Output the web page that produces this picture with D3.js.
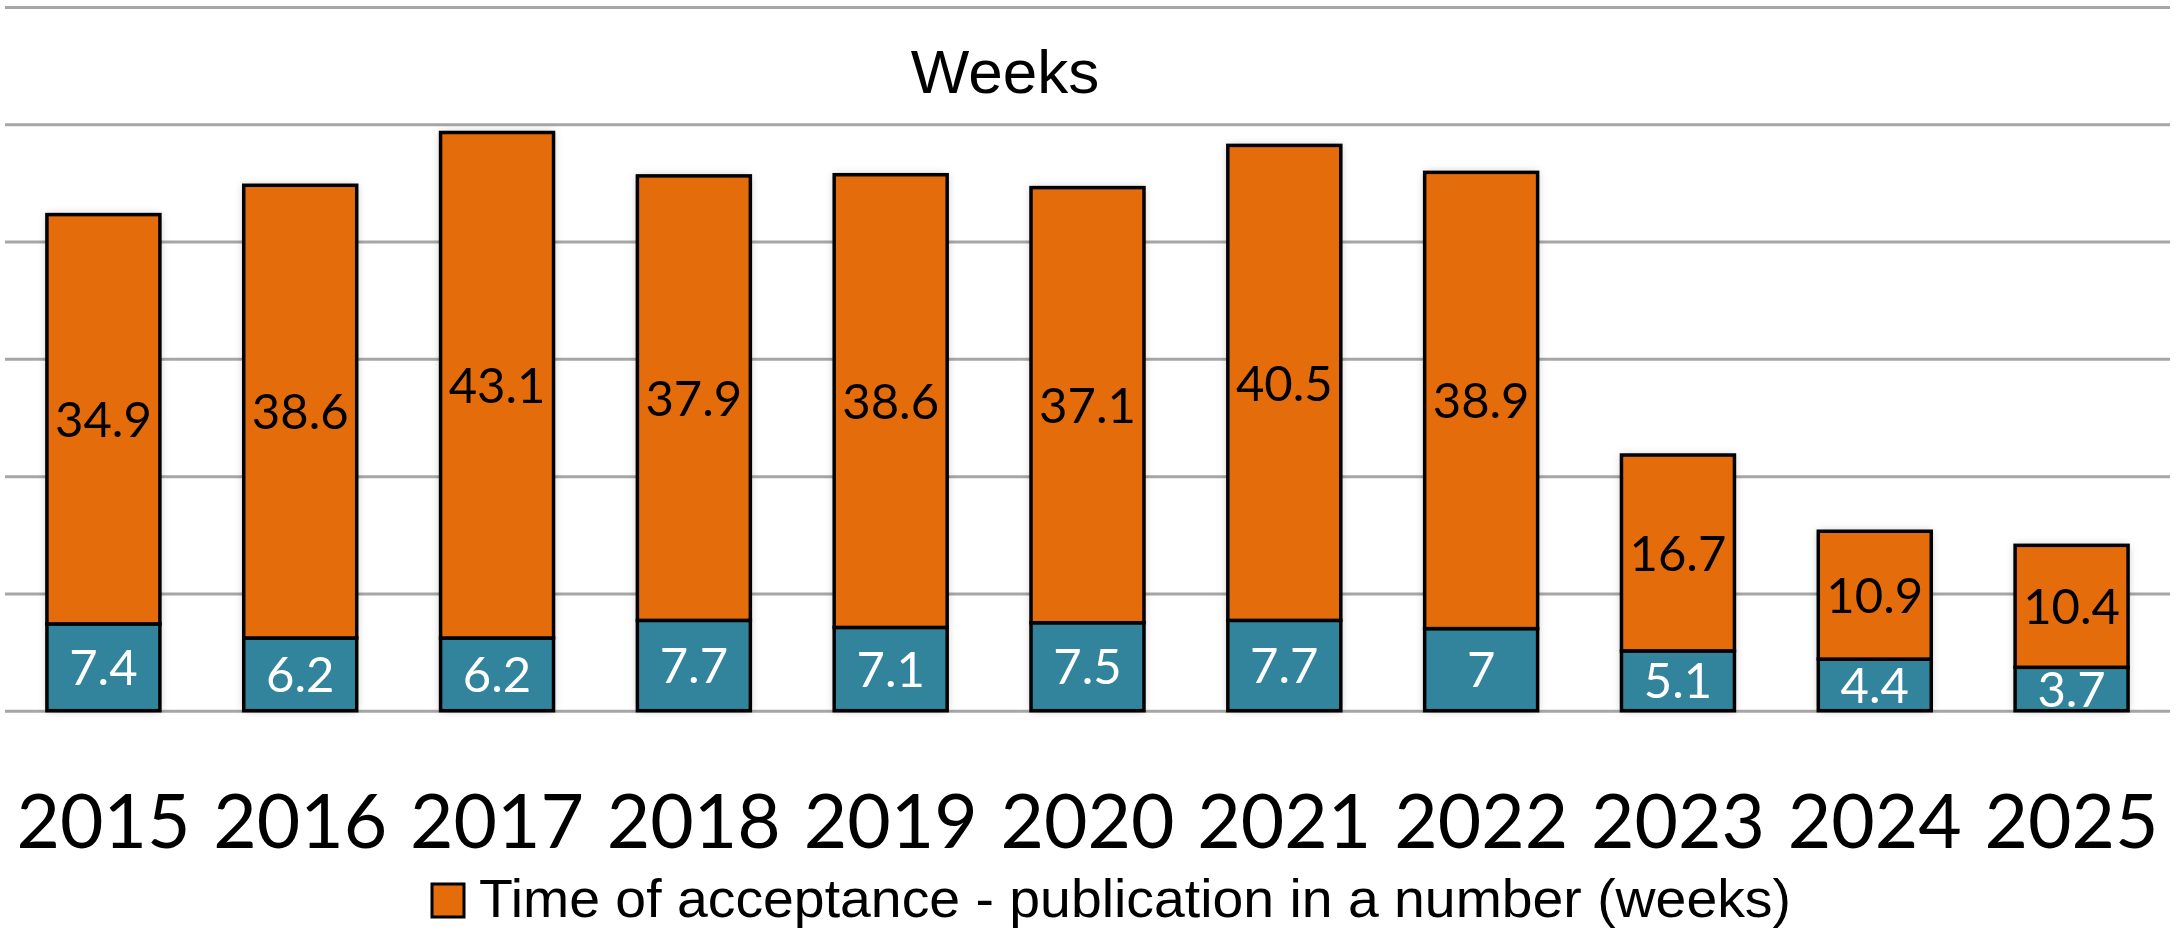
<!DOCTYPE html>
<html>
<head>
<meta charset="utf-8">
<script src="https://cdn.jsdelivr.net/npm/d3@7"></script>
<style>
  html, body { margin: 0; padding: 0; background: #fff; }
  svg { display: block; }
</style>
</head>
<body>
<svg id="chart" width="2177" height="933"></svg>
<script>
const years = ["2015","2016","2017","2018","2019","2020","2021","2022","2023","2024","2025"];
const submissionWeeks = [7.4, 6.2, 6.2, 7.7, 7.1, 7.5, 7.7, 7, 5.1, 4.4, 3.7];
const publicationWeeks = [34.9, 38.6, 43.1, 37.9, 38.6, 37.1, 40.5, 38.9, 16.7, 10.9, 10.4];
const yTicks = [0, 10, 20, 30, 40, 50, 60];
const titleText = "Weeks";
const legendText = "Time of acceptance - publication in a number (weeks)";

(function () {
const plotL = 5, plotR = 2170, plotT = 7, plotB = 710.7;
const teal = "#31849B", orange = "#E46C0A";

const svg = d3.select("#chart");
const defs = svg.append("defs");
const f = defs.append("filter").attr("id", "shadow")
  .attr("x", "-20%").attr("y", "-20%").attr("width", "140%").attr("height", "140%");
f.append("feDropShadow").attr("dx", 0).attr("dy", 0).attr("stdDeviation", 4)
  .attr("flood-color", "#000").attr("flood-opacity", 0.25);

const x = d3.scaleBand().domain(years).range([plotL, plotR]).paddingInner(0.426).paddingOuter(0.213);
const y = d3.scaleLinear().domain([0, 60]).range([plotB, plotT]);

// gridlines
const grid = svg.append("g").attr("transform", `translate(${plotL},0)`)
  .call(d3.axisLeft(y).tickValues(yTicks).tickSize(-(plotR - plotL)).tickFormat(""));
grid.select(".domain").remove();
grid.selectAll(".tick line").attr("stroke", "#a6a6a6").attr("stroke-width", 3);

// title
svg.append("text").attr("x", 1005).attr("y", 93).attr("text-anchor", "middle")
  .attr("font-family", "Liberation Sans, Arial, sans-serif").attr("font-size", 62)
  .attr("fill", "#000").text(titleText);

const data = years.map((yr, i) => ({ yr, a: submissionWeeks[i], b: publicationWeeks[i] }));

const bars = svg.append("g");
const g = bars.selectAll("g.bar").data(data).join("g").attr("class", "bar");
g.append("rect")
  .attr("x", d => x(d.yr)).attr("width", x.bandwidth())
  .attr("y", d => y(d.a + d.b)).attr("height", d => y(0) - y(d.a + d.b))
  .attr("fill", "#fff").attr("filter", "url(#shadow)");
g.append("rect")
  .attr("x", d => x(d.yr)).attr("width", x.bandwidth())
  .attr("y", d => y(d.a)).attr("height", d => y(0) - y(d.a))
  .attr("fill", teal).attr("stroke", "#000").attr("stroke-width", 3.5);
g.append("rect")
  .attr("x", d => x(d.yr)).attr("width", x.bandwidth())
  .attr("y", d => y(d.a + d.b)).attr("height", d => y(d.a) - y(d.a + d.b))
  .attr("fill", orange).attr("stroke", "#000").attr("stroke-width", 3.5);

g.append("text")
  .attr("x", d => x(d.yr) + x.bandwidth() / 2)
  .attr("y", d => (y(d.a) + y(d.a + d.b)) / 2)
  .attr("dy", "0.36em").attr("text-anchor", "middle")
  .attr("font-family", "Lato, sans-serif").attr("font-size", 49).attr("fill", "#000")
  .text(d => d.b);
g.append("text")
  .attr("x", d => x(d.yr) + x.bandwidth() / 2)
  .attr("y", d => (y(0) + y(d.a)) / 2)
  .attr("dy", "0.36em").attr("text-anchor", "middle")
  .attr("font-family", "Lato, sans-serif").attr("font-size", 49).attr("fill", "#fff")
  .text(d => d.a);

// x axis labels
const xa = svg.append("g").attr("transform", `translate(0,${plotB})`)
  .call(d3.axisBottom(x).tickSize(0));
xa.select(".domain").remove();
xa.selectAll(".tick text").attr("y", 137).attr("dy", 0)
  .attr("font-family", "Lato, sans-serif").attr("font-size", 75).attr("fill", "#000");

// legend
const lg = svg.append("g");
lg.append("rect").attr("x", 432).attr("y", 884).attr("width", 32).attr("height", 33)
  .attr("fill", orange).attr("stroke", "#000").attr("stroke-width", 3);
lg.append("text").attr("x", 479).attr("y", 917)
  .attr("font-family", "Liberation Sans, Arial, sans-serif").attr("font-size", 54)
  .attr("textLength", 1312).attr("lengthAdjust", "spacingAndGlyphs")
  .attr("fill", "#000").text(legendText);
})();
</script>
</body>
</html>
